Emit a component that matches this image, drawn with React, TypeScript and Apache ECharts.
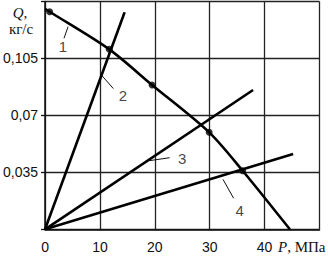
import React, { useEffect, useRef } from "react";
import * as echarts from "echarts";

// axis ticks
const pressureTicks = [0, 10, 20, 30, 40];
const flowTicks = [0.035, 0.07, 0.105];

// curve 1: Q(P)
const curve1P = [0, 0.84, 11.7, 19.5, 29.9, 36.0, 44.6];
const curve1Q = [0.1355, 0.1337, 0.1106, 0.0887, 0.0596, 0.036, 0];
// marked points on curve 1
const markerP = [0.84, 11.7, 19.5, 29.9, 36.0];
const markerQ = [0.1337, 0.1106, 0.0887, 0.0596, 0.036];

// straight characteristics 2, 3, 4
const line2P = [0, 14.5];
const line2Q = [0, 0.1334];
const line3P = [0, 37.9];
const line3Q = [0, 0.0856];
const line4P = [0, 45.2];
const line4Q = [0, 0.0463];

// curve labels with leader lines
const labelNames = ["1", "2", "3", "4"];
const labelP = [3.24, 14.2, 25.0, 35.45];
const labelQ = [0.1124, 0.0822, 0.0438, 0.0114];
const leaderFromP = [4.19, 10.35, 19.05, 32.42];
const leaderFromQ = [0.1245, 0.0945, 0.0422, 0.0307];
const leaderToP = [3.46, 12.44, 22.7, 34.35];
const leaderToQ = [0.1174, 0.0865, 0.044, 0.0191];

const zip = (a: number[], b: number[]) => a.map((v, i) => [v, b[i]]);

export default function App() {
  const ref = useRef<HTMLDivElement>(null);
  useEffect(() => {
    if (!ref.current) return;
    const chart = echarts.init(ref.current, undefined, { renderer: "svg" });
    const serif = "Liberation Serif";
    const sans = "Liberation Sans";
    const thick = { color: "#000", width: 2.6 };
    chart.setOption({
      animation: false,
      backgroundColor: "#fff",
      grid: { left: 44, right: 8.5, top: 1.5, bottom: 30.7 },
      xAxis: {
        type: "value",
        min: 0,
        max: 50,
        interval: 10,
        axisLine: { show: true, lineStyle: { color: "#111", width: 1.5 } },
        axisTick: { show: false },
        axisLabel: {
          margin: 11,
          fontFamily: sans,
          fontSize: 14,
          color: "#111",
          formatter: (v: number) => (pressureTicks.includes(v) ? String(v) : ""),
        },
        splitLine: { show: true, lineStyle: { color: "#222", width: 1.3 } },
      },
      yAxis: {
        type: "value",
        min: 0,
        max: 0.14,
        interval: 0.035,
        axisLine: { show: true, lineStyle: { color: "#111", width: 1.5 } },
        axisTick: { show: true, length: 4, lineStyle: { color: "#111", width: 1.3 } },
        axisLabel: {
          margin: 7,
          fontFamily: sans,
          fontSize: 14,
          color: "#111",
          formatter: (v: number) => {
            const t = flowTicks.find((f) => Math.abs(f - v) < 1e-6);
            return t === undefined ? "" : String(t).replace(".", ",");
          },
        },
        splitLine: { show: true, lineStyle: { color: "#222", width: 1.3 } },
      },
      graphic: [
        {
          type: "text",
          x: 20,
          y: 13,
          style: {
            text: "Q,",
            font: `italic 15px "${serif}"`,
            fill: "#111",
            align: "center",
            verticalAlign: "middle",
          },
        },
        {
          type: "text",
          x: 21,
          y: 29,
          style: {
            text: "кг/с",
            font: `15px "${serif}"`,
            fill: "#111",
            align: "center",
            verticalAlign: "middle",
          },
        },
        {
          type: "text",
          x: 278,
          y: 247,
          style: {
            text: "{i|P}, МПа",
            font: `15px "${serif}"`,
            fill: "#111",
            align: "left",
            verticalAlign: "middle",
            rich: {
              i: { fontStyle: "italic", fontFamily: serif, fontSize: 15, fill: "#111" },
            },
          },
        },
      ],
      series: [
        {
          type: "line",
          data: zip(curve1P, curve1Q),
          smooth: 0.3,
          showSymbol: false,
          symbol: "none",
          lineStyle: thick,
          z: 3,
        },
        {
          type: "line",
          data: zip(line2P, line2Q),
          symbol: "none",
          lineStyle: thick,
          z: 3,
        },
        {
          type: "line",
          data: zip(line3P, line3Q),
          symbol: "none",
          lineStyle: thick,
          z: 3,
        },
        {
          type: "line",
          data: zip(line4P, line4Q),
          symbol: "none",
          lineStyle: thick,
          z: 3,
        },
        {
          type: "scatter",
          data: zip(markerP, markerQ),
          symbol: "circle",
          symbolSize: 7,
          itemStyle: { color: "#000" },
          z: 4,
        },
        {
          type: "lines",
          coordinateSystem: "cartesian2d",
          data: labelNames.map((_, i) => ({
            coords: [
              [leaderFromP[i], leaderFromQ[i]],
              [leaderToP[i], leaderToQ[i]],
            ],
          })),
          lineStyle: { color: "#111", width: 1, opacity: 1, curveness: 0 },
          z: 3,
        },
        {
          type: "scatter",
          data: labelNames.map((n, i) => ({ value: [labelP[i], labelQ[i]], name: n })),
          symbolSize: 0,
          label: {
            show: true,
            position: "inside",
            formatter: (p: any) => p.name,
            fontFamily: sans,
            fontSize: 15,
            color: "#111",
          },
          z: 5,
        },
      ],
    });
    return () => chart.dispose();
  }, []);
  return (
    <div
      ref={ref}
      style={{ position: "absolute", left: 0, top: 0, width: 328, height: 260 }}
    />
  );
}
